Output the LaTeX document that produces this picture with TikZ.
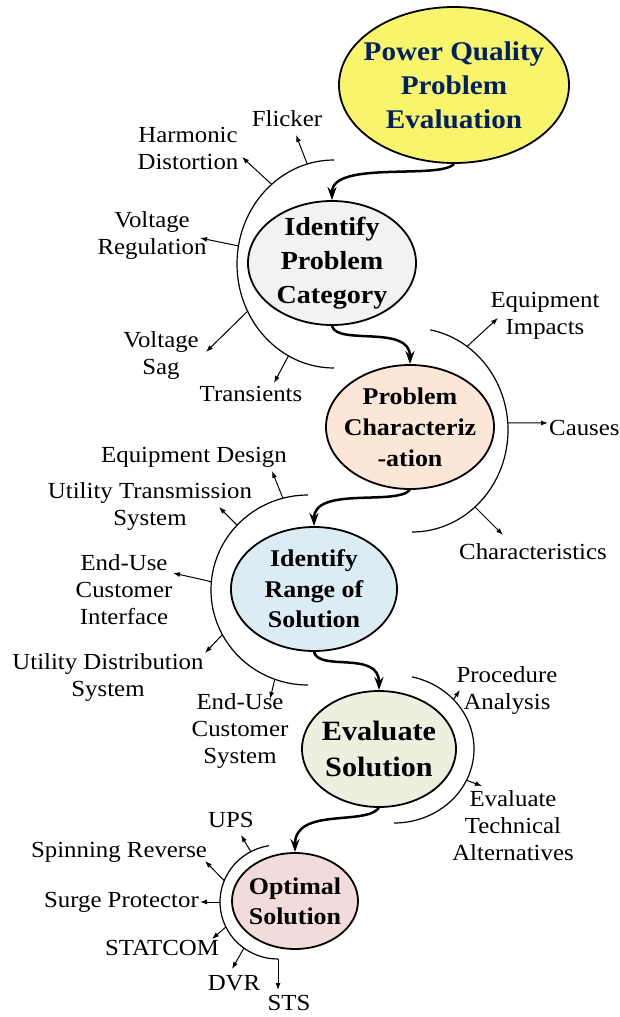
\documentclass[tikz,border=0pt]{standalone}
\usepackage{fontspec}
\setmainfont{Liberation Serif}[FakeStretch=1.08]
\usetikzlibrary{shapes.geometric,arrows.meta,calc}
\definecolor{pqyellow}{RGB}{248,245,108}
\definecolor{pqnavy}{RGB}{0,32,96}
\definecolor{catgray}{RGB}{242,242,242}
\definecolor{chpeach}{RGB}{251,230,215}
\definecolor{rgblue}{RGB}{220,236,244}
\definecolor{evgreen}{RGB}{235,241,222}
\definecolor{oppink}{RGB}{242,220,219}
\tikzset{
  stepell/.style={ellipse,draw,line width=1.8pt,align=center,inner sep=-30pt},
  lbl/.style={align=center,inner sep=0pt,font=\fontsize{23}{27}\selectfont},
  flow/.style={line width=2.5pt,-{Stealth[length=13pt,width=9pt]}},
  rim/.style={line width=1.2pt},
  spoke/.style={line width=1pt,-{Latex[length=7pt,width=5pt]}}
}
\begin{document}
\begin{tikzpicture}[x=1pt,y=-1pt]
\fill[white] (0,0) rectangle (619,1017);
\useasboundingbox (0,0) rectangle (619,1017);
% steps
\node[stepell,fill=pqyellow,minimum width=230pt,minimum height=156pt,text=pqnavy,font=\bfseries\fontsize{27}{34}\selectfont] (pqe) at (454,85) {Power Quality\\Problem\\Evaluation};
\node[stepell,fill=catgray,minimum width=168pt,minimum height=124pt,font=\bfseries\fontsize{26}{34}\selectfont] (ipc) at (332,263) {Identify\\Problem\\Category};
\node[stepell,fill=chpeach,minimum width=168pt,minimum height=124pt,font=\bfseries\fontsize{24}{31}\selectfont] (pch) at (410,427) {Problem\\Characteriz\\-ation};
\node[stepell,fill=rgblue,minimum width=166pt,minimum height=124pt,font=\bfseries\fontsize{24}{30.5}\selectfont] (irs) at (314,589) {Identify\\Range of\\Solution};
\node[stepell,fill=evgreen,minimum width=154pt,minimum height=116pt,font=\bfseries\fontsize{28}{36}\selectfont] (evs) at (379,749) {Evaluate\\Solution};
\node[stepell,fill=oppink,minimum width=126pt,minimum height=96pt,font=\bfseries\fontsize{24}{30}\selectfont] (ops) at (295,901) {Optimal\\Solution};
\draw[flow] (pqe.south) .. controls +(-14,16) and +(0,-40) .. (ipc.north);
\draw[flow] (ipc.south) .. controls +(5,20) and +(0,-40) .. (pch.north);
\draw[flow] (pch.south) .. controls +(-14,16) and +(0,-40) .. (irs.north);
\draw[flow] (irs.south) .. controls +(5,20) and +(0,-40) .. (evs.north);
\draw[flow] (evs.south) .. controls +(-14,18) and +(0,-45) .. (ops.north);
% arcs
\coordinate (c1) at (334,264);
\coordinate (c2) at (412,430);
\coordinate (c3) at (308,590);
\coordinate (c4) at (394,749);
\coordinate (c5) at (278,902);
\draw[rim] (c1) ++(-90:97 and 104) arc[start angle=-90,end angle=-270,x radius=97,y radius=104];
\draw[rim] (c2) ++(-79:96 and 102) arc[start angle=-79,end angle=90,x radius=96,y radius=102];
\draw[rim] (c3) ++(-90:97 and 95) arc[start angle=-90,end angle=-270,x radius=97,y radius=95];
\draw[rim] (c4) ++(-77:80 and 74) arc[start angle=-77,end angle=90,x radius=80,y radius=74];
\draw[rim] (c5) ++(-99:58 and 57) arc[start angle=-99,end angle=-270,x radius=58,y radius=57];
% labels
\node[lbl] (flk) at (287,119) {Flicker};
\node[lbl] (hd) at (188,148) {Harmonic\\Distortion};
\node[lbl] (vr) at (152,235) {Voltage\\Regulation};
\node[lbl] (vs) at (161,355) {Voltage\\Sag};
\node[lbl] (tr) at (251,394) {Transients};
\node[lbl] (ei) at (545,316) {Equipment\\Impacts};
\node[lbl,anchor=west] (cs) at (549,428) {Causes};
\node[lbl] (ch) at (533,552) {Characteristics};
\node[lbl] (ed) at (194,457) {Equipment Design};
\node[lbl] (uts) at (150,506) {Utility Transmission\\System};
\node[lbl] (euci) at (124,590) {End-Use\\Customer\\Interface};
\node[lbl] (uds) at (108,677) {Utility Distribution\\System};
\node[lbl] (eucs) at (240,731) {End-Use\\Customer\\System};
\node[lbl] (pa) at (507,690) {Procedure\\Analysis};
\node[lbl] (eta) at (513,826) {Evaluate\\Technical\\Alternatives};
\node[lbl] (ups) at (231,820) {UPS};
\node[lbl] (spr) at (119,852) {Spinning Reverse};
\node[lbl,anchor=east] (sgp) at (199,902) {Surge Protector};
\node[lbl] (stc) at (162,948) {STATCOM};
\node[lbl] (dvr) at (234,983) {DVR};
\node[lbl] (sts) at (289,1003) {STS};
% spoke ends
\path (c1) ++(-106:97 and 104) coordinate (sflk);
\path (c1) ++(-130:97 and 104) coordinate (shd);
\path (c1) ++(-170:97 and 104) coordinate (svr);
\path (c1) ++(-207:97 and 104) coordinate (svs);
\path (c1) ++(-242:97 and 104) coordinate (str);
\path (c2) ++(-55:96 and 102) coordinate (sei);
\path (c2) ++(-4:96 and 102) coordinate (scs);
\path (c2) ++(49:96 and 102) coordinate (sch);
\path (c3) ++(-105:97 and 95) coordinate (sed);
\path (c3) ++(-137:97 and 95) coordinate (suts);
\path (c3) ++(-175:97 and 95) coordinate (seuci);
\path (c3) ++(-208:97 and 95) coordinate (suds);
\path (c3) ++(-250:97 and 95) coordinate (seucs);
\path (c4) ++(-42:80 and 74) coordinate (spa);
\path (c4) ++(25:80 and 74) coordinate (seta);
\path (c5) ++(-118:58 and 57) coordinate (sups);
\path (c5) ++(-158:58 and 57) coordinate (sspr);
\path (c5) ++(-180:58 and 57) coordinate (ssgp);
\path (c5) ++(-206:58 and 57) coordinate (sstc);
\path (c5) ++(-234:58 and 57) coordinate (sdvr);
\path (c5) ++(-270:58 and 57) coordinate (ssts);
\coordinate (tflk) at (296,135);
\coordinate (thd) at (242,157);
\coordinate (tvr) at (200,238);
\coordinate (tvs) at (206,352);
\coordinate (ttr) at (274,383);
\coordinate (tei) at (498,318);
\coordinate (tcs) at (548,423);
\coordinate (tch) at (503,535);
\coordinate (ted) at (272,471);
\coordinate (tuts) at (219,507);
\coordinate (teuci) at (173,573);
\coordinate (tuds) at (205,653);
\coordinate (teucs) at (270,699);
\coordinate (tpa) at (460,690);
\coordinate (teta) at (482,786);
\coordinate (tups) at (241,835);
\coordinate (tspr) at (205,861);
\coordinate (tsgp) at (200,902);
\coordinate (tstc) at (212,939);
\coordinate (tdvr) at (232,969);
\coordinate (tsts) at (278,990);
\draw[spoke] (sflk) -- (tflk);
\draw[spoke] (shd) -- (thd);
\draw[spoke] (svr) -- (tvr);
\draw[spoke] (svs) -- (tvs);
\draw[spoke] (str) -- (ttr);
\draw[spoke] (sei) -- (tei);
\draw[spoke] (scs) -- (tcs);
\draw[spoke] (sch) -- (tch);
\draw[spoke] (sed) -- (ted);
\draw[spoke] (suts) -- (tuts);
\draw[spoke] (seuci) -- (teuci);
\draw[spoke] (suds) -- (tuds);
\draw[spoke] (seucs) -- (teucs);
\draw[spoke] (spa) -- (tpa);
\draw[spoke] (seta) -- (teta);
\draw[spoke] (sups) -- (tups);
\draw[spoke] (sspr) -- (tspr);
\draw[spoke] (ssgp) -- (tsgp);
\draw[spoke] (sstc) -- (tstc);
\draw[spoke] (sdvr) -- (tdvr);
\draw[spoke] (ssts) -- (tsts);
\end{tikzpicture}
\end{document}
